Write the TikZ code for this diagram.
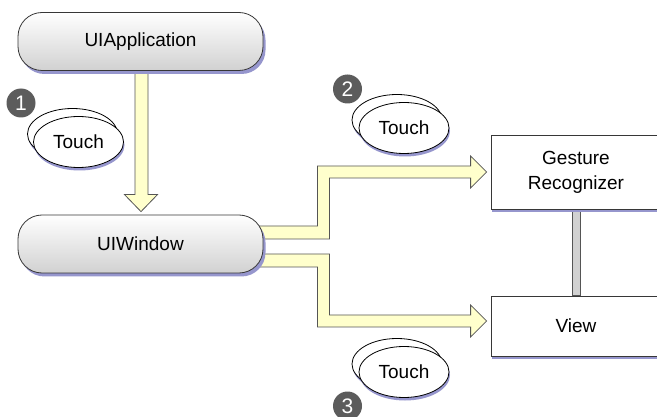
\documentclass[tikz,border=0pt]{standalone}
\usepackage{fontspec}
\setmainfont{Liberation Sans}
\usetikzlibrary{calc,shapes.geometric,shadows}
\definecolor{shad}{RGB}{150,150,205}
\definecolor{fatyellow}{RGB}{255,255,204}
\definecolor{badgegray}{RGB}{92,92,92}
\definecolor{edgec}{RGB}{55,55,55}
\pgfdeclarelayer{background}
\pgfsetlayers{background,main}
\begin{document}
\begin{tikzpicture}[x=1pt,y=-1pt,
  font=\fontsize{19}{25}\selectfont,
  pill/.style={draw=edgec, line width=0.8pt, rounded corners=24pt,
    minimum width=245pt, minimum height=58pt, top color=white, bottom color=black!18,
    general shadow={fill=shad, shadow xshift=2.5pt, shadow yshift=-3.5pt}},
  box/.style={draw=edgec, line width=0.8pt, fill=white, minimum width=170pt,
    align=center, general shadow={fill=shad, shadow xshift=1pt, shadow yshift=-3pt}},
  touch/.style={ellipse, draw=black, line width=0.8pt, fill=white,
    minimum width=90pt, minimum height=51pt, inner sep=0pt,
    general shadow={fill=shad, shadow xshift=1pt, shadow yshift=-3pt}},
  badge/.style={circle, fill=badgegray, text=white, minimum size=29pt, inner sep=0pt,
    font=\fontsize{21}{21}\selectfont},
  fat/.style={fill=fatyellow, draw=edgec!85, line width=0.8pt, line join=miter},
  bar/.style={fill=black!18, draw=edgec!85, line width=0.8pt}
]
\useasboundingbox (0,0) rectangle (657,417);
\clip (0,0) rectangle (657,417);

% main nodes
\node[pill] (app) at (140.5,41.5) {UIApplication};
\node[pill] (win) at (140.5,244) {UIWindow};
\node[box, minimum height=74pt] (gr) at (576,172) {Gesture\\Recognizer};
\node[box, minimum height=60pt] (view) at (576,326) {View};

% touches
\node[touch] (t1b) at (72.5,134) {};
\node[touch] (t1) at (78.5,142) {Touch};
\node[badge] (b1) at (21,103) {1};

\node[touch] (t2b) at (397,120) {};
\node[touch] (t2) at (404,128) {Touch};
\node[badge] (b2) at (347.5,89) {2};

\node[touch] (t3b) at (397,364) {};
\node[touch] (t3) at (404,372) {Touch};
\node[badge] (b3) at (347.5,406) {3};

\begin{pgfonlayer}{background}
\fill[white] (0,0) rectangle (657,417);
% vertical arrow UIApplication -> UIWindow
\filldraw[fat] let \p1=(app.south), \p2=(win.north) in
  (\x1-5.5pt,\y1+2pt) -- (\x1-5.5pt,\y2+20pt) -- (\x1-16pt,\y2+20pt) --
  (\x1+0.5pt,\y2+3pt) -- (\x1+17pt,\y2+20pt) -- (\x1+7.5pt,\y2+20pt) --
  (\x1+7.5pt,\y1+2pt) -- cycle;
% UIWindow -> Gesture Recognizer
\filldraw[fat] let \p1=(win.east), \p2=(gr.west) in
  (\x1-10pt,\y1+18pt) -- (\x1+54pt,\y1+18pt) -- (\x1+54pt,\y2+6pt) --
  (\x2-20pt,\y2+6pt) -- (\x2-20pt,\y2+16pt) -- (\x2-4pt,\y2) --
  (\x2-20pt,\y2-16pt) -- (\x2-20pt,\y2-6pt) -- (\x1+66pt,\y2-6pt) --
  (\x1+66pt,\y1+5pt) -- (\x1-10pt,\y1+5pt) -- cycle;
% UIWindow -> View
\filldraw[fat] let \p1=(win.east), \p3=(view.west) in
  (\x1-10pt,\y1-10pt) -- (\x1+66pt,\y1-10pt) -- (\x1+66pt,\y3+11pt) --
  (\x3-20pt,\y3+11pt) -- (\x3-20pt,\y3+21pt) -- (\x3-4pt,\y3+5pt) --
  (\x3-20pt,\y3-11pt) -- (\x3-20pt,\y3-1pt) -- (\x1+54pt,\y3-1pt) --
  (\x1+54pt,\y1-23pt) -- (\x1-10pt,\y1-23pt) -- cycle;
% Gesture Recognizer -- View
\filldraw[bar] ($(gr.south)+(-4,0)$) rectangle ($(view.north)+(4,0)$);
\end{pgfonlayer}
\end{tikzpicture}
\end{document}
